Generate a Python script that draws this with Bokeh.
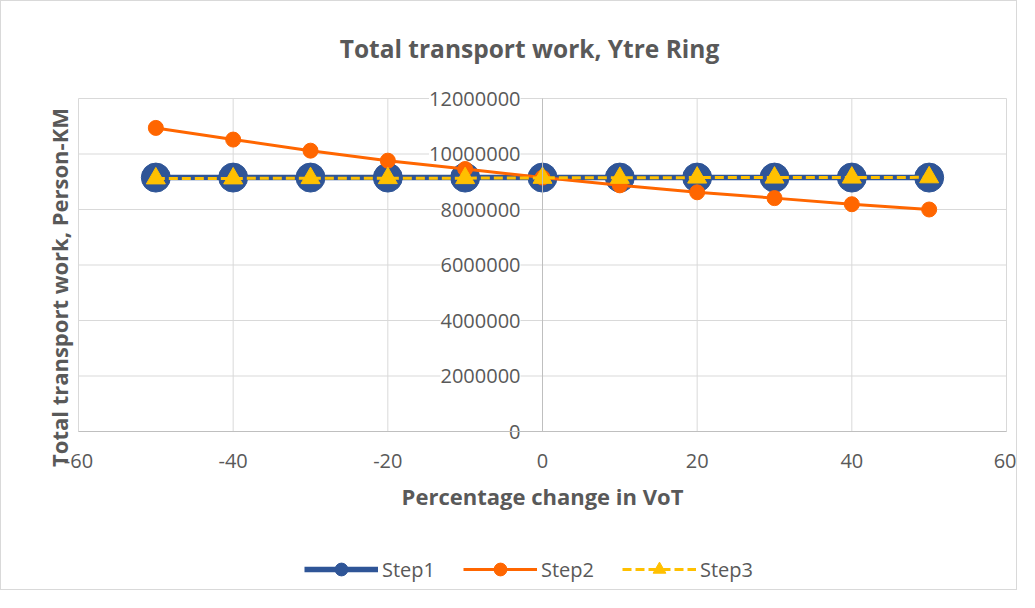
import math
from bokeh.plotting import figure
from bokeh.models import (LinearAxis, FixedTicker, Legend, LegendItem, Range1d, Label)
from bokeh.core.properties import value
from bokeh.embed import file_html
from bokeh.resources import INLINE

pct = [-50, -40, -30, -20, -10, 0, 10, 20, 30, 40, 50]
step1 = [9150000, 9150000, 9150000, 9150000, 9150000, 9150000, 9150000, 9150000, 9150000, 9150000, 9150000]
step2 = [10940000, 10520000, 10120000, 9760000, 9460000, 9150000, 8870000, 8620000, 8410000, 8190000, 8000000]
step3 = [9120000, 9120000, 9130000, 9130000, 9130000, 9140000, 9140000, 9150000, 9150000, 9150000, 9160000]
x_ticks = [-60, -40, -20, 0, 20, 40, 60]
y_ticks = [0, 2000000, 4000000, 6000000, 8000000, 10000000, 12000000]
y_tick_labels = ["0", "2000000", "4000000", "6000000", "8000000", "10000000", "12000000"]

FONT = "Open Sans"
TXT = "#595959"
GRID = "#D9D9D9"
AXIS = "#BFBFBF"

W, H = 1017, 590
AREA_L, AREA_R = 77, 1005        # pixel columns of x = -60 and x = 60
AREA_T, AREA_B = 97, 430         # pixel rows of y = 12M and y = 0
x_lo, x_hi = x_ticks[0], x_ticks[-1]
y_lo, y_hi = y_ticks[0], y_ticks[-1]
xu = (x_hi - x_lo) / (AREA_R - AREA_L)
yu = (y_hi - y_lo) / (AREA_B - AREA_T)
x_range = Range1d(x_lo - AREA_L * xu, x_hi + (W - AREA_R) * xu)
y_range = Range1d(y_lo - (H - AREA_B) * yu, y_hi + AREA_T * yu)

p = figure(width=W, height=H, x_range=x_range, y_range=y_range,
           output_backend="svg", toolbar_location=None, x_axis_location=None, y_axis_location=None,
           min_border_left=0, min_border_right=0, min_border_top=0, min_border_bottom=0)
p.outline_line_color = None
p.xgrid.visible = False
p.ygrid.visible = False
p.styles = {"border": "1px solid #D9D9D9"}

# chart title
p.add_layout(Label(x=528, y=H - 47, x_units="screen", y_units="screen",
                   text="Total transport work, Ytre Ring", text_align="center", text_baseline="middle",
                   text_font=FONT, text_font_size="24.5px", text_font_style="bold", text_color=TXT))

# grid lines, limited to the value area
n_x, n_y = len(x_ticks), len(y_ticks)
p.segment(x0=x_ticks, y0=[y_lo] * n_x, x1=x_ticks, y1=[y_hi] * n_x,
          line_color=GRID, line_width=1, level="underlay")
p.segment(x0=[x_lo] * n_y, y0=y_ticks, x1=[x_hi] * n_y, y1=y_ticks,
          line_color=GRID, line_width=1, level="underlay")

xaxis = LinearAxis(ticker=FixedTicker(ticks=x_ticks), axis_label="Percentage change in VoT",
                   major_label_overrides={t: str(t) for t in x_ticks}, fixed_location=y_lo,
                   bounds=(x_lo, x_hi))
xaxis.axis_line_color = AXIS
xaxis.major_tick_line_color = None
xaxis.major_tick_out = 0
xaxis.major_tick_in = 0
xaxis.minor_tick_line_color = None
xaxis.major_label_standoff = 22
xaxis.major_label_text_font = FONT
xaxis.major_label_text_font_size = "20px"
xaxis.major_label_text_color = TXT
xaxis.axis_label_text_font = FONT
xaxis.axis_label_text_font_size = "22px"
xaxis.axis_label_text_font_style = "bold"
xaxis.axis_label_text_color = TXT
xaxis.axis_label_standoff = 10
p.add_layout(xaxis, "below")

yaxis = LinearAxis(ticker=FixedTicker(ticks=[]), fixed_location=0, bounds=(y_lo, y_hi))
yaxis.axis_line_color = AXIS
yaxis.major_tick_line_color = None
yaxis.minor_tick_line_color = None
yaxis.major_label_text_font_size = "0px"
p.add_layout(yaxis, "left")

# y tick labels at the y-axis (x = 0), with a white box that hides the grid line
lab_kw = dict(x=[0] * n_y, y=y_ticks, text=y_tick_labels, x_offset=-22,
              text_align="right", text_baseline="middle", text_font_size="20px",
              text_color=TXT, level="underlay")
try:
    p.text(text_font=value(FONT), background_fill_color="white", **lab_kw)
except Exception:
    p.text(text_font=value(FONT), **lab_kw)

p.add_layout(Label(x=57, y=H - 286, x_units="screen", y_units="screen",
                   text="Total transport work, Person-KM", angle=math.pi / 2,
                   text_align="center", text_baseline="middle",
                   text_font=FONT, text_font_size="22px", text_font_style="bold", text_color=TXT))

BLUE = "#2F5597"
ORANGE = "#FF6600"
YELLOW = "#FFC000"

r1l = p.line(pct, step1, line_color=BLUE, line_width=5.5)
r1m = p.scatter(pct, step1, size=29, fill_color=BLUE, line_color=BLUE, marker="circle")
r2l = p.line(pct, step2, line_color=ORANGE, line_width=3)
r2m = p.scatter(pct, step2, size=15, fill_color=ORANGE, line_color=ORANGE, marker="circle")
r3l = p.line(pct, step3, line_color=YELLOW, line_width=3, line_dash="9 4")
r3m = p.scatter(pct, step3, size=19, fill_color=YELLOW, line_color=YELLOW, marker="triangle")

legend = Legend(items=[LegendItem(label="Step1", renderers=[r1l, r1m]),
                       LegendItem(label="Step2", renderers=[r2l, r2m]),
                       LegendItem(label="Step3", renderers=[r3l, r3m])],
                orientation="horizontal", location=(303, 6))
legend.border_line_color = None
legend.background_fill_alpha = 0
legend.padding = 0
legend.margin = 0
legend.glyph_width = 74
legend.glyph_height = 32
legend.label_standoff = 4
legend.spacing = 28
legend.label_text_font = FONT
legend.label_text_font_size = "20px"
legend.label_text_color = TXT
p.add_layout(legend, "center")

open("out.html", "w").write(file_html(p, INLINE))
